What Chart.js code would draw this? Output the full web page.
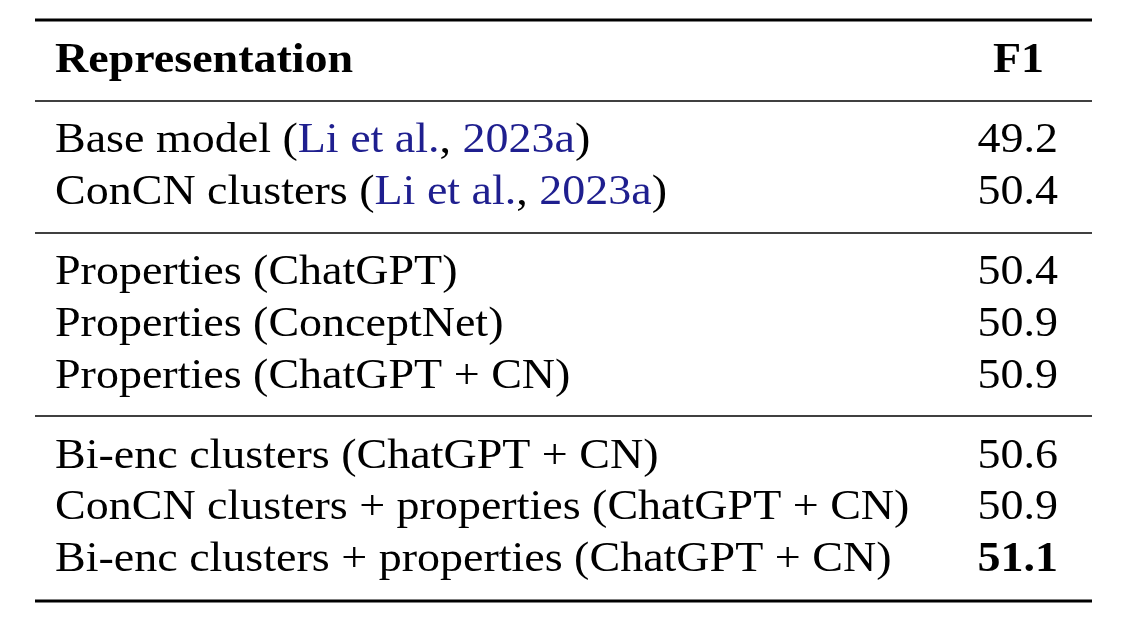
<!DOCTYPE html>
<html>
<head>
<meta charset="utf-8">
<script src="https://cdn.jsdelivr.net/npm/chart.js@4/dist/chart.umd.min.js"></script>
<style>
  html, body { margin: 0; padding: 0; background: #fff; }
  #wrap { width: 1124px; height: 626px; }
</style>
</head>
<body>
<div id="wrap"><canvas id="table"></canvas></div>
<script>
// ---- data ----
const headers = ['Representation', 'F1'];
const groups = [0, 0, 1, 1, 1, 2, 2, 2];
// label segments: strings are plain, [text] marks a citation
const labels = [
  ['Base model (', ['Li et al.'], ', ', ['2023a'], ')'],
  ['ConCN clusters (', ['Li et al.'], ', ', ['2023a'], ')'],
  ['Properties (ChatGPT)'],
  ['Properties (ConceptNet)'],
  ['Properties (ChatGPT + CN)'],
  ['Bi-enc clusters (ChatGPT + CN)'],
  ['ConCN clusters + properties (ChatGPT + CN)'],
  ['Bi-enc clusters + properties (ChatGPT + CN)']
];
const f1 = [49.2, 50.4, 50.4, 50.9, 50.9, 50.6, 50.9, 51.1];

// ---- layout helpers ----
const GAP = 0.55;
const rowPos = groups.map((g, i) => i + g * GAP);
const best = Math.max(...f1);
const FONT = '"Liberation Serif", "Times New Roman", serif';
const SIZE = 43;
const STRETCH = 1.07;
const CITE = '#1f1f8f';

// draws text horizontally stretched, returns advance width
function drawText(ctx, t, x, y, align) {
  const w = ctx.measureText(t).width * STRETCH;
  const x0 = align === 'right' ? x - w : x;
  ctx.save();
  ctx.translate(x0, y);
  ctx.scale(STRETCH, 1);
  ctx.textAlign = 'left';
  ctx.fillText(t, 0, 0);
  ctx.restore();
  return w;
}

const tablePlugin = {
  id: 'tableText',
  afterDraw(chart) {
    const ctx = chart.ctx;
    const y = chart.scales.y;
    const left = 35, right = 1092, textX = 55, valX = 1058;
    ctx.save();
    ctx.fillStyle = '#000';
    ctx.strokeStyle = '#000';
    const rule = (v, w) => {
      const p = Math.round(y.getPixelForValue(v));
      ctx.lineWidth = w;
      ctx.beginPath(); ctx.moveTo(left, p); ctx.lineTo(right, p); ctx.stroke();
    };
    const headerPos = -1 - GAP;
    rule(headerPos - 0.8, 3);
    rule((headerPos + rowPos[0]) / 2, 1.6);
    for (let i = 1; i < rowPos.length; i++) {
      if (groups[i] !== groups[i - 1]) rule((rowPos[i - 1] + rowPos[i]) / 2, 1.6);
    }
    rule(rowPos[rowPos.length - 1] + 0.8, 3);

    ctx.textBaseline = 'middle';
    ctx.font = 'bold ' + SIZE + 'px ' + FONT;
    drawText(ctx, headers[0], textX, y.getPixelForValue(headerPos), 'left');
    drawText(ctx, headers[1], valX - 14, y.getPixelForValue(headerPos), 'right');

    labels.forEach((segs, i) => {
      const py = y.getPixelForValue(rowPos[i]);
      ctx.font = SIZE + 'px ' + FONT;
      let x = textX;
      segs.forEach(s => {
        const cite = Array.isArray(s);
        const t = cite ? s[0] : s;
        ctx.fillStyle = cite ? CITE : '#000';
        x += drawText(ctx, t, x, py, 'left');
      });
      ctx.fillStyle = '#000';
      ctx.font = (f1[i] === best ? 'bold ' : '') + SIZE + 'px ' + FONT;
      drawText(ctx, f1[i].toFixed(1), valX, py, 'right');
    });
    ctx.restore();
  }
};

const UNIT = 51.7;
new Chart(document.getElementById('table'), {
  type: 'scatter',
  data: {
    datasets: [{
      data: f1.map((v, i) => ({ x: v, y: rowPos[i] })),
      pointRadius: 0
    }]
  },
  options: {
    responsive: true,
    maintainAspectRatio: false,
    animation: false,
    layout: { padding: 0 },
    plugins: { legend: { display: false }, tooltip: { enabled: false } },
    scales: {
      x: { display: false, min: 45, max: 55 },
      y: { display: false, reverse: true, min: -141 / UNIT, max: (626 - 141) / UNIT }
    }
  },
  plugins: [tablePlugin]
});
</script>
</body>
</html>
